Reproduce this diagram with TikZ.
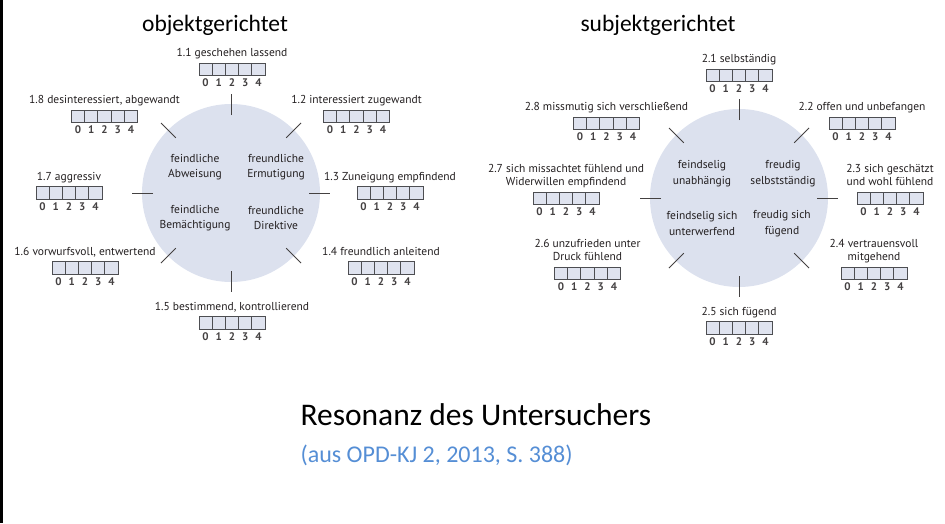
\documentclass[tikz,border=0pt]{standalone}
\usepackage{fontspec}
\usepackage{tikz}
\usetikzlibrary{positioning}

\setmainfont{PT Sans}
\newfontfamily\titlefont{Carlito}

\definecolor{discfill}{HTML}{DCE1EE}
\definecolor{boxfill}{HTML}{DFE3EF}
\definecolor{boxline}{HTML}{4D4E52}
\definecolor{inktext}{HTML}{231F20}
\definecolor{srcblue}{HTML}{558ED5}

% one rating: box with five cells, digits below, label above
\newcommand{\digitrow}{\makebox[13.2pt]{0}\makebox[13.2pt]{1}\makebox[13.2pt]{2}\makebox[13.2pt]{3}\makebox[13.2pt]{4}}
\newcommand{\rating}[3]{%
  \node[ratebox]                    (#1)   at (#2) {};
  \node[digits,below=2.5pt of #1]   (#1d)          {\digitrow};
  \node[itemlabel,above=3.5pt of #1] (#1l)          {#3};
}

\begin{document}
\begin{tikzpicture}[x=1pt,y=-1pt,
  disc/.style={circle,fill=discfill,minimum size=178pt,inner sep=0pt},
  tick/.style={draw=inktext!85,line width=0.9pt},
  ratebox/.style={draw=boxline,fill=boxfill,line width=0.9pt,minimum width=66pt,minimum height=12.5pt,inner sep=0pt,
    path picture={\foreach \i in {1,...,4}
      \draw[boxline,line width=0.9pt] ([xshift=\i*13.2pt]path picture bounding box.north west) -- ([xshift=\i*13.2pt]path picture bounding box.south west);}},
  digits/.style={inner sep=0pt,font=\bfseries\fontsize{11}{12}\selectfont,text=inktext!85},
  itemlabel/.style={inner sep=0pt,align=center,font=\fontsize{11.5}{13.5}\selectfont,text=inktext,text depth=2.5pt},
  quad/.style={align=center,font=\fontsize{11.5}{15.5}\selectfont,text=inktext},
  paneltitle/.style={font=\titlefont\fontsize{23.5}{26}\selectfont}]

\useasboundingbox (0,0) rectangle (945,523);
\draw[line width=2.7pt] (1.35,0) -- (1.35,523);

% objektgerichtet
\node[paneltitle] (tl) at (215,25) {objektgerichtet};
\node[disc] (L) at (231,193) {};
\foreach \a in {0,45,...,315}
  \draw[tick] (L.center) ++(\a:78) -- ++(\a:21);

\node[quad] (L1) at (195,167) {feindliche\\Abweisung};
\node[quad] (L2) at (276,167) {freundliche\\Ermutigung};
\node[quad] (L3) at (195,218) {feindliche\\Bemächtigung};
\node[quad] (L4) at (276,218) {freundliche\\Direktive};

\rating{r11}{232,69.5}{1.1 geschehen lassend}
\rating{r12}{356.5,116.5}{1.2 interessiert zugewandt}
\rating{r13}{390,193}{1.3 Zuneigung empfindend}
\rating{r14}{381,268}{1.4 freundlich anleitend}
\rating{r15}{232,323}{1.5 bestimmend, kontrollierend}
\rating{r16}{85,268}{1.6 vorwurfsvoll, entwertend}
\rating{r17}{69,193}{1.7 aggressiv}
\rating{r18}{104.5,116.5}{1.8 desinteressiert, abgewandt}

% subjektgerichtet
\node[paneltitle] (tr) at (658,25) {subjektgerichtet};
\node[disc] (R) at (739,198) {};
\foreach \a in {0,45,...,315}
  \draw[tick] (R.center) ++(\a:78) -- ++(\a:21);

\node[quad] (R1) at (702,173.5) {feindselig\\unabhängig};
\node[quad] (R2) at (783,173.5) {freudig\\selbstständig};
\node[quad] (R3) at (702,223.5) {feindselig sich\\unterwerfend};
\node[quad] (R4) at (782,223.5) {freudig sich\\fügend};

\rating{r21}{739,75.5}{2.1 selbständig}
\rating{r22}{862,123.5}{2.2 offen und unbefangen}
\rating{r23}{890,198.5}{2.3 sich geschätzt\\und wohl fühlend}
\rating{r24}{874,273.5}{2.4 vertrauensvoll\\mitgehend}
\rating{r25}{739,328}{2.5 sich fügend}
\rating{r26}{587.5,273.5}{2.6 unzufrieden unter\\Druck fühlend}
\rating{r27}{566,198.5}{2.7 sich missachtet fühlend und\\Widerwillen empfindend}
\rating{r28}{606.5,123.5}{2.8 missmutig sich verschließend}

% caption
\node[anchor=west,font=\titlefont\fontsize{31.5}{34}\selectfont] (cap) at (297,415) {Resonanz des Untersuchers};
\node[anchor=west,font=\titlefont\fontsize{24}{26}\selectfont,text=srcblue] (src) at (297,455) {(aus OPD-KJ 2, 2013, S. 388)};

\end{tikzpicture}
\end{document}
